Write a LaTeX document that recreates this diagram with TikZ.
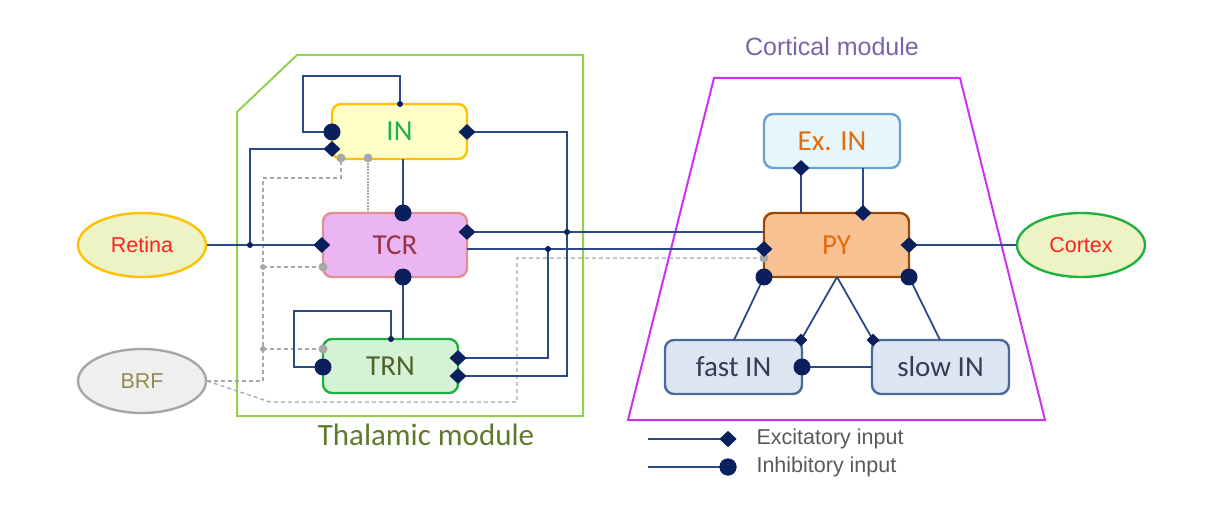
\documentclass[tikz,border=0pt]{standalone}
\usepackage{fontspec}
\setmainfont{Carlito}
\newfontfamily\arialf{Liberation Sans}
\usetikzlibrary{shapes.geometric}
\definecolor{linec}{HTML}{2A4A85}
\definecolor{markc}{HTML}{0A1F5C}
\definecolor{grayc}{HTML}{A8A8A8}
\definecolor{thalc}{HTML}{92D050}
\definecolor{cortc}{HTML}{D030F0}
\definecolor{inFill}{HTML}{FFFFC8}
\definecolor{inDraw}{HTML}{FFC000}
\definecolor{inText}{HTML}{20B050}
\definecolor{tcrFill}{HTML}{EBB5F3}
\definecolor{tcrDraw}{HTML}{E09090}
\definecolor{tcrText}{HTML}{993344}
\definecolor{trnFill}{HTML}{D5F2D5}
\definecolor{trnDraw}{HTML}{20B040}
\definecolor{trnText}{HTML}{4F6228}
\definecolor{pyFill}{HTML}{F9C292}
\definecolor{pyDraw}{HTML}{984807}
\definecolor{orText}{HTML}{E46C0A}
\definecolor{exFill}{HTML}{E6F6FA}
\definecolor{exDraw}{HTML}{6AA0D8}
\definecolor{fsFill}{HTML}{DCE6F2}
\definecolor{fsDraw}{HTML}{4A6A9A}
\definecolor{fsText}{HTML}{3A3A55}
\definecolor{retFill}{HTML}{EDF3C4}
\definecolor{redText}{HTML}{FF2020}
\definecolor{brfFill}{HTML}{EFEFEF}
\definecolor{brfDraw}{HTML}{A6A6A6}
\definecolor{brfText}{HTML}{948A54}
\definecolor{thalText}{HTML}{5F7A2E}
\definecolor{cortText}{HTML}{7A64A8}
\definecolor{legText}{HTML}{595959}
\tikzset{
  conn/.style={draw=linec, line width=1.8},
  exc/.style={diamond, fill=markc, inner sep=0, minimum width=17, minimum height=16},
  inh/.style={circle, fill=markc, inner sep=0, minimum size=17},
  jdot/.style={circle, fill=markc, inner sep=0, minimum size=6},
  gdot/.style={circle, fill=grayc, inner sep=0, minimum size=9},
  gjdot/.style={circle, fill=grayc, inner sep=0, minimum size=6},
  gdash/.style={draw=grayc, line width=1.3, dash pattern=on 4 off 3},
  gdot line/.style={draw=grayc, line width=1.3, dash pattern=on 1.5 off 1.5},
  cell/.style={rectangle, rounded corners=9, line width=2.4, inner sep=0,
    font=\fontsize{29}{32}\selectfont},
  oval/.style={ellipse, line width=2.4, inner sep=0, minimum width=128, minimum height=64,
    font=\arialf\fontsize{21.5}{24}\selectfont},
  module/.style={line width=2},
}
\begin{document}
\begin{tikzpicture}[x=1pt,y=-1pt]
\useasboundingbox (0,0) rectangle (1214,526);
% modules
\draw[module, draw=thalc] (237,112) -- (297,55) -- (583,55) -- (583,416) -- (237,416) -- cycle;
\draw[module, draw=cortc] (714,78) -- (960,78) -- (1045,420) -- (628,420) -- cycle;
\node[text=thalText, font=\fontsize{31}{34}\selectfont] (thallab) at (426,435) {Thalamic module};
\node[text=cortText, font=\arialf\fontsize{25}{28}\selectfont] (cortlab) at (832,47) {Cortical module};
% cells
\node[cell, fill=inFill, draw=inDraw, text=inText, minimum width=135, minimum height=55] (IN) at (399.5,131.5) {IN};
\node[cell, fill=tcrFill, draw=tcrDraw, text=tcrText, minimum width=144, minimum height=64] (TCR) at (395,245) {TCR};
\node[cell, fill=trnFill, draw=trnDraw, text=trnText, minimum width=135, minimum height=54] (TRN) at (390.5,366) {TRN};
\node[cell, fill=pyFill, draw=pyDraw, text=orText, minimum width=145, minimum height=64] (PY) at (836.5,245) {PY};
\node[cell, fill=exFill, draw=exDraw, text=orText, minimum width=136, minimum height=54] (ExIN) at (832,141) {Ex. IN};
\node[cell, fill=fsFill, draw=fsDraw, text=fsText, minimum width=137, minimum height=54] (fastIN) at (733.5,367) {fast IN};
\node[cell, fill=fsFill, draw=fsDraw, text=fsText, minimum width=137, minimum height=54] (slowIN) at (940.5,367) {slow IN};
\node[oval, fill=retFill, draw=inDraw, text=redText] (Retina) at (142,245) {Retina};
\node[oval, fill=brfFill, draw=brfDraw, text=brfText] (BRF) at (142,381) {BRF};
\node[oval, fill=retFill, draw=trnDraw, text=redText] (Cortex) at (1081,245) {Cortex};
% connection points
\coordinate (rj) at (250,245);
\coordinate (INw1) at (332,132);
\coordinate (INw2) at (332,149);
\coordinate (INe) at (467,132);
\coordinate (INt) at (400,104);
\coordinate (INb) at (403,159);
\coordinate (INg1) at (341,158);
\coordinate (INg2) at (368,158);
\coordinate (TCRt) at (403,213);
\coordinate (TCRtg) at (368,213);
\coordinate (TCRwg) at (323,267);
\coordinate (TCRe1) at (467,232);
\coordinate (TCRe2) at (467,249);
\coordinate (TCRb) at (403,277);
\coordinate (TRNt1) at (391,339);
\coordinate (TRNt2) at (403,339);
\coordinate (TRNwg) at (323,349);
\coordinate (TRNw) at (323,367);
\coordinate (TRNe1) at (458,358);
\coordinate (TRNe2) at (458,376);
\coordinate (v567) at (567,376);
\coordinate (j567) at (567,232);
\coordinate (j548) at (548,249);
\coordinate (PYw1) at (764,232);
\coordinate (PYw2) at (764,249);
\coordinate (PYwg) at (764,258);
\coordinate (PYbl) at (764,277);
\coordinate (PYbr) at (909,277);
\coordinate (PYbm) at (837,277);
\coordinate (PYt1) at (801,213);
\coordinate (PYt2) at (863,213);
\coordinate (PYe) at (909,245);
\coordinate (ExINb1) at (801,168);
\coordinate (ExINb2) at (863,168);
\coordinate (fastt1) at (734,340);
\coordinate (fastt2) at (801,340);
\coordinate (faste) at (802,367);
\coordinate (slowt1) at (873,340);
\coordinate (slowt2) at (940,340);
\coordinate (sloww) at (872,367);
\coordinate (gA) at (263,178);
\coordinate (gJ1) at (263,267);
\coordinate (gJ2) at (263,349);
\coordinate (gB) at (270,402);
\coordinate (gC) at (517,258);
% gray BRF lines
\draw[gdash] (BRF.east) -| (gA) -| (INg1);
\draw[gdash] (gJ1) -- (TCRwg);
\draw[gdash] (gJ2) -- (TRNwg);
\draw[gdash] (BRF.east) -- (gB) -| (gC) -- (PYwg);
\draw[gdot line] (TCRtg) -- (INg2);
% thalamic connectors
\draw[conn] (Retina.east) -- (TCR.west);
\draw[conn] (rj) |- (INw2);
\draw[conn] (INt) -- ++(0,-28) -| ([xshift=-29]INw1) -- (INw1);
\draw[conn] (INb) -- (TCRt);
\draw[conn] (INe) -| (v567) -- (TRNe2);
\draw[conn] (TCRe1) -- (PYw1);
\draw[conn] (TCRe2) -- (PYw2);
\draw[conn] (j548) |- (TRNe1);
\draw[conn] (TRNt2) -- (TCRb);
\draw[conn] (TRNt1) -- ++(0,-28) -| ([xshift=-29]TRNw) -- (TRNw);
% cortical connectors
\draw[conn] (ExINb1) -- (PYt1);
\draw[conn] (ExINb2) -- (PYt2);
\draw[conn] (PYe) -- (Cortex.west);
\draw[conn] (PYbl) -- (fastt1);
\draw[conn] (PYbr) -- (slowt2);
\draw[conn] (PYbm) -- (fastt2);
\draw[conn] (PYbm) -- (slowt1);
\draw[conn] (sloww) -- (faste);
% markers
\node[jdot] at (rj) {};
\node[jdot] at (INt) {};
\node[jdot] at (TRNt1) {};
\node[jdot] at (j567) {};
\node[jdot] at (j548) {};
\node[gjdot] at (gJ1) {};
\node[gjdot] at (gJ2) {};
\node[gdot] at (INg1) {};
\node[gdot] at (INg2) {};
\node[gdot] at (TCRwg) {};
\node[gdot] at (TRNwg) {};
\node[gdot] at (PYwg) {};
\node[inh] at (INw1) {};
\node[exc] at (INw2) {};
\node[exc] at (INe) {};
\node[inh] at (TCRt) {};
\node[exc] at (TCR.west) {};
\node[exc] at (TCRe1) {};
\node[inh] at (TCRb) {};
\node[inh] at (TRNw) {};
\node[exc] at (TRNe1) {};
\node[exc] at (TRNe2) {};
\node[exc] at (PYw2) {};
\node[inh] at (PYbl) {};
\node[inh] at (PYbr) {};
\node[exc] at (PYt2) {};
\node[exc] at (PYe) {};
\node[exc] at (ExINb1) {};
\node[exc, minimum width=13, minimum height=13] at (fastt2) {};
\node[exc, minimum width=13, minimum height=13] at (slowt1) {};
\node[inh] at (faste) {};
% legend
\coordinate (L1a) at (648,439);
\coordinate (L2a) at (648,467);
\node[exc] (L1b) at (728,439) {};
\node[inh] (L2b) at (728,467) {};
\draw[conn] (L1a) -- (L1b.center);
\draw[conn] (L2a) -- (L2b.center);
\node[exc] at (L1b) {};
\node[inh] at (L2b) {};
\node[anchor=west, text=legText, font=\arialf\fontsize{21.5}{24}\selectfont] (L1t) at (753,439) {Excitatory input};
\node[anchor=west, text=legText, font=\arialf\fontsize{21.5}{24}\selectfont] (L2t) at (753,467) {Inhibitory input};
\end{tikzpicture}
\end{document}
